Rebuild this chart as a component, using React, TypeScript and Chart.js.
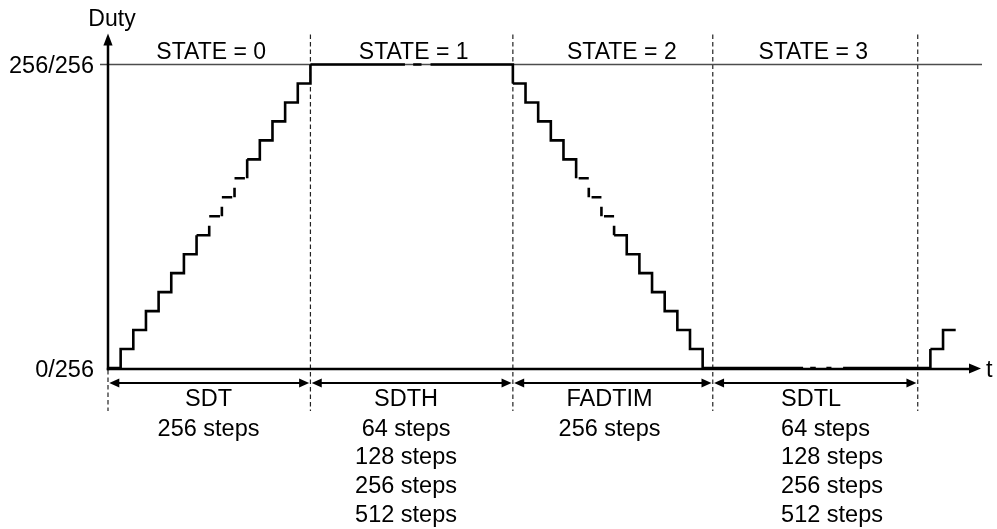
import React, { useEffect, useRef } from 'react';
import { Chart, registerables } from 'chart.js';

Chart.register(...registerables);

// ---- data ----
// x position (in PWM steps) where the duty level changes, and the level it changes to
const dutyStepAt = [0, 1, 2, 3, 4, 5, 6, 7, 8, 9, 10, 11, 12, 13, 14, 15, 16,
  32, 33, 34, 35, 36, 37, 38, 39, 40, 41, 42, 43, 44, 45, 46, 47,
  65, 66, 67];
const dutyLevel = [0, 1, 2, 3, 4, 5, 6, 7, 8, 9, 10, 11, 12, 13, 14, 15, 16,
  15, 14, 13, 12, 11, 10, 9, 8, 7, 6, 5, 4, 3, 2, 1, 0,
  1, 2, 2];

const yTickValues = [0, 16];
const yTickLabels = ['0/256', '256/256'];
const yAxisTitle = 'Duty';
const xAxisTitle = 't';

const phaseBounds = [0, 16, 32, 47.8, 64];
const stateLabels = ['STATE = 0', 'STATE = 1', 'STATE = 2', 'STATE = 3'];
const phaseNames = ['SDT', 'SDTH', 'FADTIM', 'SDTL'];
const phaseSteps = [
  ['256 steps'],
  ['64 steps', '128 steps', '256 steps', '512 steps'],
  ['256 steps'],
  ['64 steps', '128 steps', '256 steps', '512 steps'],
];

// elided ("...") parts of the waveform: [level, fromX, toX] on plateaus
const gapsOnLevel = [
  [8, 8.85, 9], [9, 9.82, 10], [10, 10.82, 11],
  [10, 37, 37.2], [9, 38, 38.22], [8, 39, 39.2],
  [16, 23.47, 24.12], [16, 24.78, 25.49],
  [0, 54.94, 55.5], [0, 55.94, 56.78], [0, 57.18, 58.1],
];
// [x, fromLevel, toLevel] on risers
const gapsOnRiser = [
  [8, 7.5, 8], [9, 8.5, 9], [10, 9.5, 10],
  [38, 10, 9.5], [39, 9, 8.5], [40, 8, 7.5],
];

// ---- layout / style (not data) ----
const FONT = '"Liberation Sans", Arial, Helvetica, sans-serif';
const LAYOUT = {
  stateDx: [2, 2, 9, -2],
  bottomAlign: ['center', 'center', 'center', 'left'] as CanvasTextAlign[],
  bottomDx: [-0.7, -5.6, -3.3, 68.3],
};

function segmentDash(c: any) {
  const chart = c.chart;
  const xs = chart.scales.x;
  const ys = chart.scales.y;
  const i0 = c.p0DataIndex;
  const i1 = c.p1DataIndex;
  const x0 = dutyStepAt[i0], L0 = dutyLevel[i0];
  const x1 = dutyStepAt[i1], L1 = dutyLevel[i1];
  const px0 = xs.getPixelForValue(x0), px1 = xs.getPixelForValue(x1);
  const py0 = ys.getPixelForValue(L0), py1 = ys.getPixelForValue(L1);
  const hx = Math.abs(px1 - px0);
  const vy = Math.abs(py1 - py0);
  const cuts: [number, number][] = [];
  for (const [lvl, a, b] of gapsOnLevel) {
    if (lvl === L0 && a >= Math.min(x0, x1) - 1e-9 && b <= Math.max(x0, x1) + 1e-9) {
      const da = Math.abs(xs.getPixelForValue(a) - px0);
      const db = Math.abs(xs.getPixelForValue(b) - px0);
      cuts.push([Math.min(da, db), Math.max(da, db)]);
    }
  }
  for (const [gx, a, b] of gapsOnRiser) {
    const lo = Math.min(L0, L1), hi = Math.max(L0, L1);
    if (gx === x1 && Math.min(a, b) >= lo && Math.max(a, b) <= hi) {
      const da = hx + Math.abs(ys.getPixelForValue(a) - py0);
      const db = hx + Math.abs(ys.getPixelForValue(b) - py0);
      cuts.push([Math.min(da, db), Math.max(da, db)]);
    }
  }
  if (!cuts.length) return undefined;
  cuts.sort((p, q) => p[0] - q[0]);
  const dash: number[] = [];
  let pos = 0;
  for (const [a, b] of cuts) {
    dash.push(Math.max(0, a - pos), Math.max(0, b - a));
    pos = b;
  }
  dash.push(Math.max(0, hx + vy - pos) + 1, 0);
  return dash;
}

function arrowHead(ctx: CanvasRenderingContext2D, tx: number, ty: number, dx: number, dy: number, len: number, half: number) {
  // tip at (tx,ty), pointing in direction (dx,dy)
  const bx = tx - dx * len, by = ty - dy * len;
  const nx = -dy, ny = dx;
  ctx.beginPath();
  ctx.moveTo(tx, ty);
  ctx.lineTo(bx + nx * half, by + ny * half);
  ctx.lineTo(bx - nx * half, by - ny * half);
  ctx.closePath();
  ctx.fill();
}

const diagramPlugin = {
  id: 'diagram',
  beforeDatasetsDraw(chart: any) {
    const { ctx, scales } = chart;
    const x = scales.x, y = scales.y;
    const x0 = x.getPixelForValue(0);
    const y0 = y.getPixelForValue(yTickValues[0]);
    const yTop = y.getPixelForValue(yTickValues[1]);
    const xEnd = x.getPixelForValue(x.max);
    ctx.save();
    // dashed phase boundaries
    ctx.strokeStyle = '#222';
    ctx.lineWidth = 1.2;
    ctx.setLineDash([4.5, 3]);
    phaseBounds.forEach((b, i) => {
      const px = x.getPixelForValue(b);
      ctx.beginPath();
      ctx.moveTo(px, i === 0 ? y0 + 2 : yTop - 30);
      ctx.lineTo(px, y0 + 43);
      ctx.stroke();
    });
    ctx.setLineDash([]);
    // full-scale reference line
    ctx.strokeStyle = '#4d4d4d';
    ctx.lineWidth = 1.3;
    ctx.beginPath();
    ctx.moveTo(x0 - 8, yTop);
    ctx.lineTo(xEnd + 1, yTop);
    ctx.stroke();
    // axes
    ctx.strokeStyle = '#000';
    ctx.fillStyle = '#000';
    ctx.lineWidth = 2.5;
    ctx.beginPath();
    ctx.moveTo(x0, y0 + 2.2);
    ctx.lineTo(x0, yTop - 22);
    ctx.stroke();
    arrowHead(ctx, x0, yTop - 31, 0, -1, 12, 4.6);
    ctx.beginPath();
    ctx.moveTo(x0 - 1.2, y0 + 1);
    ctx.lineTo(xEnd - 9, y0 + 1);
    ctx.stroke();
    arrowHead(ctx, xEnd, y0 + 0.5, 1, 0, 12, 5);
    ctx.restore();
  },
  afterDatasetsDraw(chart: any) {
    const { ctx, scales } = chart;
    const x = scales.x, y = scales.y;
    const x0 = x.getPixelForValue(0);
    const y0 = y.getPixelForValue(yTickValues[0]);
    const yTop = y.getPixelForValue(yTickValues[1]);
    const xEnd = x.getPixelForValue(x.max);
    ctx.save();
    ctx.fillStyle = '#000';
    ctx.strokeStyle = '#000';
    // double arrows
    const ay = y0 + 15;
    for (let i = 0; i < phaseBounds.length - 1; i++) {
      const l = x.getPixelForValue(phaseBounds[i]) + 1.3;
      const r = x.getPixelForValue(phaseBounds[i + 1]) - 1.3;
      ctx.lineWidth = 2;
      ctx.beginPath();
      ctx.moveTo(l + 6, ay);
      ctx.lineTo(r - 6, ay);
      ctx.stroke();
      arrowHead(ctx, l, ay, -1, 0, 10, 4.6);
      arrowHead(ctx, r, ay, 1, 0, 10, 4.6);
    }
    // axis titles and tick labels
    ctx.textBaseline = 'alphabetic';
    ctx.font = `23px ${FONT}`;
    ctx.textAlign = 'center';
    ctx.fillText(yAxisTitle, x0 + 4, yTop - 38.5);
    ctx.font = `23.5px ${FONT}`;
    ctx.textAlign = 'right';
    yTickValues.forEach((v, i) => {
      ctx.fillText(yTickLabels[i], x0 - 14, y.getPixelForValue(v) + 8.5);
    });
    ctx.textAlign = 'left';
    ctx.fillText(xAxisTitle, xEnd + 5, y0 + 8.5);
    // state labels
    ctx.font = `23px ${FONT}`;
    ctx.textAlign = 'center';
    for (let i = 0; i < stateLabels.length; i++) {
      const c = (x.getPixelForValue(phaseBounds[i]) + x.getPixelForValue(phaseBounds[i + 1])) / 2;
      ctx.fillText(stateLabels[i], c + LAYOUT.stateDx[i], yTop - 6);
    }
    // phase names and step counts
    ctx.font = `23.5px ${FONT}`;
    for (let i = 0; i < phaseNames.length; i++) {
      const l = x.getPixelForValue(phaseBounds[i]);
      const r = x.getPixelForValue(phaseBounds[i + 1]);
      const align = LAYOUT.bottomAlign[i];
      const ax = align === 'left' ? l + LAYOUT.bottomDx[i] : (l + r) / 2 + LAYOUT.bottomDx[i];
      ctx.textAlign = align;
      ctx.fillText(phaseNames[i], ax, y0 + 38);
      phaseSteps[i].forEach((s, k) => {
        ctx.fillText(s, ax, y0 + 67.5 + k * 28.8);
      });
    }
    ctx.restore();
  },
};

function DutyDiagram() {
  const canvasRef = useRef<HTMLCanvasElement | null>(null);
  useEffect(() => {
    const canvas = canvasRef.current;
    if (!canvas) return;
    const chart = new Chart(canvas, {
      type: 'line',
      data: {
        datasets: [
          {
            label: 'Duty',
            data: dutyStepAt.map((sx, i) => ({ x: sx, y: dutyLevel[i] })),
            stepped: 'before',
            borderColor: '#000',
            borderWidth: 2.6,
            borderJoinStyle: 'miter',
            borderCapStyle: 'butt',
            borderDash: [],
            pointRadius: 0,
            fill: false,
            clip: false as any,
            segment: { borderDash: segmentDash as any },
          } as any,
        ],
      },
      options: {
        animation: false,
        responsive: false,
        events: [],
        layout: { padding: { left: 108, right: 16, top: 64.5, bottom: 161 } },
        plugins: { legend: { display: false }, tooltip: { enabled: false } },
        scales: {
          x: { type: 'linear', min: 0, max: 69, display: false },
          y: { type: 'linear', min: 0, max: 16, display: false },
        },
      },
      plugins: [diagramPlugin],
    });
    return () => chart.destroy();
  }, []);
  return (
    <div style={{ position: 'fixed', left: 0, top: 0, width: 997, height: 529, background: '#fff' }}>
      <canvas ref={canvasRef} width={997} height={529} />
    </div>
  );
}

export default function App() {
  return <DutyDiagram />;
}
